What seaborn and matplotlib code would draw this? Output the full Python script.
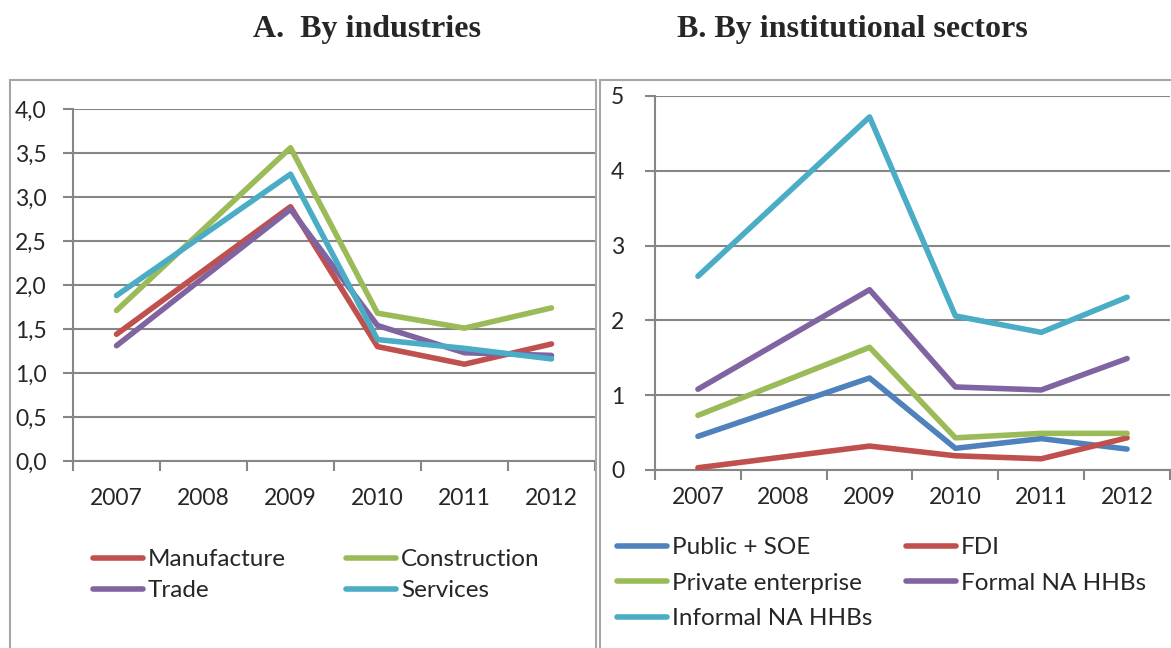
import numpy as np
import pandas as pd
import seaborn as sns
import matplotlib.pyplot as plt
from matplotlib.patches import Rectangle
from matplotlib.lines import Line2D

# Data (2008 has no point, lines run straight through)
years = ['2007', '2008', '2009', '2010', '2011', '2012']

manufacture = [1.44, np.nan, 2.89, 1.30, 1.10, 1.33]
construction = [1.71, np.nan, 3.56, 1.68, 1.51, 1.74]
trade = [1.31, np.nan, 2.86, 1.54, 1.23, 1.20]
services = [1.88, np.nan, 3.26, 1.38, 1.28, 1.16]

public_soe = [0.45, np.nan, 1.23, 0.29, 0.42, 0.28]
fdi = [0.03, np.nan, 0.32, 0.19, 0.15, 0.43]
private_ent = [0.73, np.nan, 1.64, 0.43, 0.49, 0.49]
formal_hhb = [1.08, np.nan, 2.41, 1.11, 1.07, 1.49]
informal_hhb = [2.59, np.nan, 4.72, 2.06, 1.84, 2.31]

ind_names = ['Manufacture', 'Construction', 'Trade', 'Services']
ind_values = [manufacture, construction, trade, services]
sec_names = ['Public + SOE', 'FDI', 'Private enterprise', 'Formal NA HHBs', 'Informal NA HHBs']
sec_values = [public_soe, fdi, private_ent, formal_hhb, informal_hhb]

colors = {
    'Manufacture': '#C0504D', 'Construction': '#9BBB59', 'Trade': '#8064A2', 'Services': '#4BACC6',
    'Public + SOE': '#4F81BD', 'FDI': '#C0504D', 'Private enterprise': '#9BBB59',
    'Formal NA HHBs': '#8064A2', 'Informal NA HHBs': '#4BACC6',
}

def long_frame(names, values):
    rows = []
    for name, vals in zip(names, values):
        for i, v in enumerate(vals):
            rows.append({'pos': i, 'series': name, 'value': v})
    return pd.DataFrame(rows).dropna()

sns.set_style('white')
plt.rcParams['font.family'] = ['Lato', 'DejaVu Sans']

GRID = '#868686'
fig = plt.figure(figsize=(11.71, 6.48), dpi=100)

# outer chart frames
fig.add_artist(Rectangle((10 / 1171, -0.1), 586 / 1171, 1.1 - 80 / 648, transform=fig.transFigure,
                         fill=False, edgecolor='#a6a6a6', linewidth=1.5))
fig.add_artist(Rectangle((600 / 1171, -0.1), 600 / 1171, 1.1 - 80 / 648, transform=fig.transFigure,
                         fill=False, edgecolor='#a6a6a6', linewidth=1.5))

axA = fig.add_axes([73 / 1171, 1 - 461 / 648, 522 / 1171, 352 / 648])
axB = fig.add_axes([655 / 1171, 1 - 470 / 648, 515 / 1171, 374 / 648])


def style_axis(ax, yticks, fmt, xpad, ypad):
    ax.set_xlim(-0.5, 5.5)
    ax.set_ylim(yticks[0], yticks[-1])
    ax.set_yticks(yticks)
    ax.set_yticklabels([fmt(v) for v in yticks])
    ax.set_xticks(np.arange(-0.5, 6, 1))
    ax.set_xticklabels([])
    ax.set_xticks(np.arange(6), minor=True)
    ax.set_xticklabels(years, minor=True)
    ax.tick_params(axis='x', which='major', bottom=True, length=7, width=1.5, color=GRID, direction='out')
    ax.tick_params(axis='x', which='minor', bottom=True, length=0, pad=xpad, labelsize=16.5)
    ax.tick_params(axis='y', left=True, length=7, width=1.5, color=GRID, direction='out',
                   pad=ypad, labelsize=16.5)
    for y in yticks:
        ax.axhline(y, color=GRID, linewidth=1.5, zorder=0)
    for s in ['top', 'right']:
        ax.spines[s].set_visible(False)
    for s in ['left', 'bottom']:
        ax.spines[s].set_color(GRID)
        ax.spines[s].set_linewidth(1.5)
    ax.set_xlabel('')
    ax.set_ylabel('')
    ax.patch.set_alpha(0)


dfA = long_frame(ind_names, ind_values)
sns.lineplot(data=dfA, x='pos', y='value', hue='series', hue_order=ind_names, palette=colors,
             linewidth=4, legend=False, ax=axA, solid_capstyle='round', zorder=3)
style_axis(axA, np.arange(0, 4.01, 0.5), lambda v: f'{v:.1f}'.replace('.', ','), 19.5, 12)

dfB = long_frame(sec_names, sec_values)
sns.lineplot(data=dfB, x='pos', y='value', hue='series', hue_order=sec_names, palette=colors,
             linewidth=4, legend=False, ax=axB, solid_capstyle='round', zorder=3)
style_axis(axB, np.arange(0, 6), lambda v: f'{v:d}', 12.5, 15)


def handle(name):
    return Line2D([], [], color=colors[name], linewidth=4, solid_capstyle='round')

orderA = ['Manufacture', 'Trade', 'Construction', 'Services']
axA.legend([handle(n) for n in orderA], orderA, ncol=2, frameon=False, fontsize=17.5,
           loc='upper left', bbox_to_anchor=(93 / 1171, 1 - 549 / 648), bbox_transform=fig.transFigure,
           handlelength=2.05, handletextpad=0.2, columnspacing=2.5, labelspacing=0.42,
           borderaxespad=0, borderpad=0)

orderB = ['Public + SOE', 'Private enterprise', 'Informal NA HHBs', 'FDI', 'Formal NA HHBs']
axB.legend([handle(n) for n in orderB], orderB, ncol=2, frameon=False, fontsize=17.5,
           loc='upper left', bbox_to_anchor=(617 / 1171, 1 - 537 / 648), bbox_transform=fig.transFigure,
           handlelength=2.05, handletextpad=0.2, columnspacing=1.4, labelspacing=0.6,
           borderaxespad=0, borderpad=0)

fig.text(367 / 1171, 1 - 30 / 648, 'A.  By industries', ha='center', va='center',
         fontsize=23, fontweight='bold', family='Liberation Serif')
fig.text(852 / 1171, 1 - 30 / 648, 'B. By institutional sectors', ha='center', va='center',
         fontsize=23, fontweight='bold', family='Liberation Serif')

fig.savefig('out.png', dpi=100)
